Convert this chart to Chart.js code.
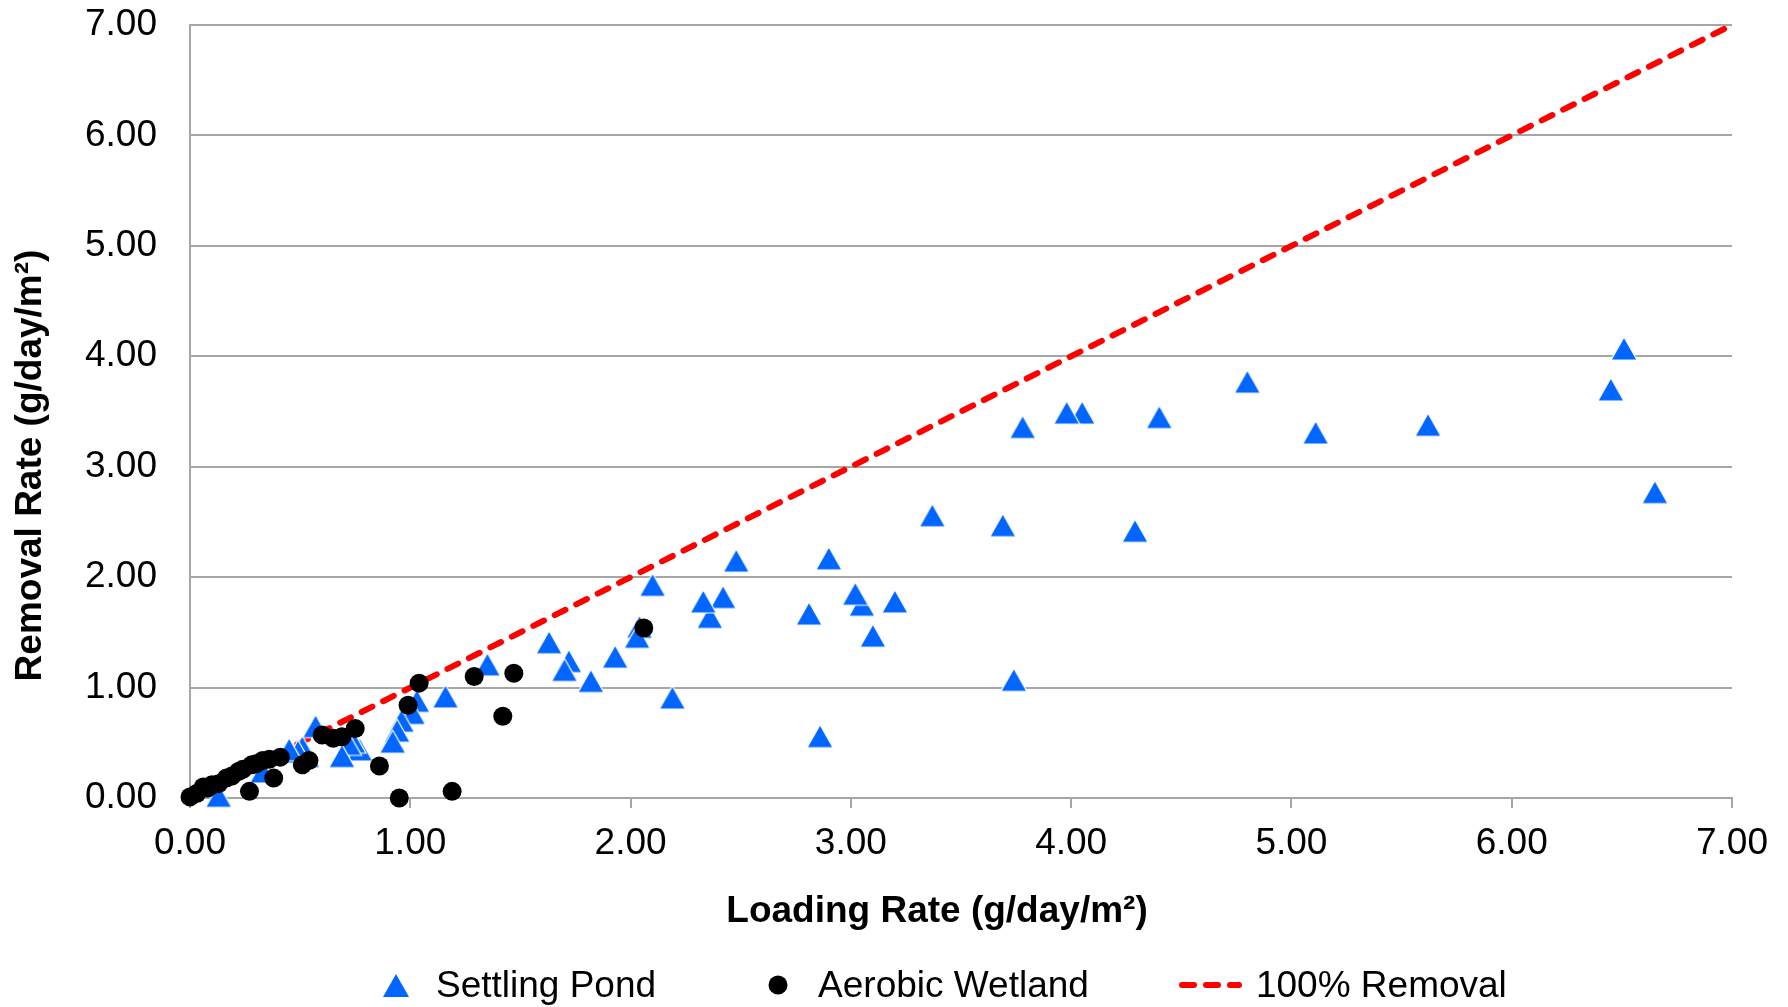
<!DOCTYPE html>
<html>
<head>
<meta charset="utf-8">
<script src="https://cdn.jsdelivr.net/npm/chart.js@4.4.1/dist/chart.umd.min.js"></script>
<style>
  html, body { margin: 0; padding: 0; background: #fff; }
  #wrap { position: relative; width: 1788px; height: 1007px; overflow: hidden; }
  #removalChart { position: absolute; left: 0; top: 0; }
  #legend {
    position: absolute; left: 364px; top: 963px;
    display: flex; gap: 90px;
    font: 37px "Liberation Sans", Arial, sans-serif; line-height: 44px; color: #000;
  }
  .legend-item { display: flex; align-items: center; white-space: nowrap; }
  .legend-mark { width: 63px; height: 44px; margin-right: 9px; display: flex; align-items: center; justify-content: center; }
  .legend-item.line .legend-mark { margin-right: 14px; }
</style>
</head>
<body>
<div id="wrap">
  <canvas id="removalChart" width="1788" height="1007"></canvas>
  <div id="legend"></div>
</div>
<script>
// Settling Pond (triangles)
const pondLoading = [6.51, 6.45, 6.65, 5.62, 5.11, 4.80, 4.40, 4.29, 4.05, 3.98,
  3.78, 3.74, 3.69, 3.37, 3.20, 3.10, 3.05, 3.02, 2.90, 2.81,
  2.86, 2.48, 2.42, 2.36, 2.33, 2.19, 2.10, 2.04, 2.03, 1.93,
  1.82, 1.72, 1.70, 1.63, 1.35, 1.16, 1.03, 1.01, 0.96, 0.94,
  0.92, 0.77, 0.74, 0.72, 0.69, 0.57, 0.53, 0.51, 0.49, 0.45,
  0.33, 0.13];
const pondRemoval = [4.07, 3.70, 2.77, 3.38, 3.31, 3.77, 3.45, 2.42, 3.49, 3.49,
  3.36, 1.07, 2.47, 2.56, 1.78, 1.47, 1.75, 1.85, 2.17, 1.67,
  0.56, 2.15, 1.82, 1.64, 1.78, 0.91, 1.93, 1.55, 1.46, 1.28,
  1.06, 1.24, 1.16, 1.41, 1.21, 0.92, 0.88, 0.77, 0.70, 0.61,
  0.51, 0.44, 0.51, 0.49, 0.38, 0.65, 0.38, 0.46, 0.42, 0.44,
  0.24, 0.02];

// Aerobic Wetland (circles)
const wetlandLoading = [0.00, 0.03, 0.06, 0.08, 0.10, 0.13, 0.165, 0.19, 0.22, 0.24,
  0.27, 0.28, 0.30, 0.33, 0.36, 0.38, 0.41, 0.51, 0.54, 0.60,
  0.65, 0.69, 0.75, 0.86, 0.95, 0.99, 1.04, 1.19, 1.29, 1.42,
  1.47, 2.06];
const wetlandRemoval = [0.01, 0.04, 0.10, 0.09, 0.12, 0.13, 0.18, 0.20, 0.24, 0.26,
  0.06, 0.30, 0.31, 0.34, 0.35, 0.18, 0.37, 0.30, 0.34, 0.57,
  0.54, 0.555, 0.63, 0.29, 0.00, 0.84, 1.04, 0.06, 1.10, 0.74,
  1.13, 1.54];

// 100% removal reference line
const fullRemovalLoading = [0, 7];
const fullRemovalRemoval = [0, 7];

const tickValues = [0, 1, 2, 3, 4, 5, 6, 7];

const FONT = '"Liberation Sans", Arial, sans-serif';
const POND_BLUE = '#0066ff';
const GRID_GREY = '#a6a6a6';

function toPoints(xs, ys) {
  return xs.map((x, i) => ({ x: x, y: ys[i] }));
}

// triangle marker centred on its bounding box (like the spreadsheet marker)
function makeTriangle(w, h, color) {
  const c = document.createElement('canvas');
  c.width = w + 4;
  c.height = h + 4;
  const ctx = c.getContext('2d');
  ctx.beginPath();
  ctx.moveTo(c.width / 2, 2);
  ctx.lineTo(2 + w, 2 + h);
  ctx.lineTo(2, 2 + h);
  ctx.closePath();
  ctx.fillStyle = color;
  ctx.fill();
  ctx.strokeStyle = '#ffffff';
  ctx.lineWidth = 1.2;
  ctx.stroke();
  return c;
}

// move an axis title without moving the plot area
function nudgeTitle(scale, dx, dy) {
  if (scale._nudged) return;
  const draw = scale.drawTitle;
  scale.drawTitle = function () {
    this.ctx.save();
    this.ctx.translate(dx, dy);
    draw.call(this);
    this.ctx.restore();
  };
  scale._nudged = true;
}

const triangle = makeTriangle(26, 23, POND_BLUE);

Chart.defaults.font.family = FONT;
Chart.defaults.color = '#000';

const ctx = document.getElementById('removalChart').getContext('2d');
const chart = new Chart(ctx, {
  type: 'scatter',
  data: {
    datasets: [
      {
        label: 'Settling Pond',
        data: toPoints(pondLoading, pondRemoval),
        pointStyle: triangle,
        pointRadius: 12,
        backgroundColor: POND_BLUE,
        borderWidth: 0,
        clip: false,
        order: 1
      },
      {
        label: 'Aerobic Wetland',
        data: toPoints(wetlandLoading, wetlandRemoval),
        pointStyle: 'circle',
        pointRadius: 9.5,
        backgroundColor: '#000',
        borderWidth: 0,
        clip: false,
        order: 0
      },
      {
        label: '100% Removal',
        data: toPoints(fullRemovalLoading, fullRemovalRemoval),
        showLine: true,
        pointRadius: 0,
        borderColor: '#ff0000',
        borderWidth: 6,
        borderDash: [12, 12],
        borderCapStyle: 'round',
        order: 2
      }
    ]
  },
  options: {
    responsive: false,
    animation: false,
    devicePixelRatio: 1,
    layout: { padding: { top: 25, right: 56, bottom: 73, left: 0 } },
    plugins: {
      legend: { display: false },
      tooltip: { enabled: false }
    },
    scales: {
      x: {
        type: 'linear',
        min: 0,
        max: 7,
        afterBuildTicks: s => { s.ticks = tickValues.map(v => ({ value: v })); },
        afterFit: s => {
          s.height = 136;
          s.paddingLeft = 0;
          s.paddingRight = 0;
          nudgeTitle(s, -24, 0);
        },
        ticks: {
          padding: 14,
          font: { size: 37 },
          callback: v => v.toFixed(2)
        },
        grid: {
          drawOnChartArea: false,
          drawTicks: true,
          tickLength: 10,
          color: GRID_GREY,
          lineWidth: 2
        },
        border: { color: GRID_GREY, width: 2 },
        title: {
          display: true,
          text: 'Loading Rate (g/day/m²)',
          font: { size: 37, weight: 'bold' },
          padding: { top: 0, bottom: 0 }
        }
      },
      y: {
        type: 'linear',
        min: 0,
        max: 7,
        afterBuildTicks: s => { s.ticks = tickValues.map(v => ({ value: v })); },
        afterFit: s => {
          s.width = 190;
          s.paddingTop = 0;
          s.paddingBottom = 0;
          nudgeTitle(s, 0, 54);
        },
        ticks: {
          padding: 33,
          font: { size: 37 },
          callback: v => v.toFixed(2)
        },
        grid: {
          drawTicks: false,
          color: GRID_GREY,
          lineWidth: 2
        },
        border: { color: GRID_GREY, width: 2 },
        title: {
          display: true,
          text: 'Removal Rate (g/day/m²)',
          font: { size: 37, weight: 'bold' },
          padding: { top: 9, bottom: 0 }
        }
      }
    }
  }
});

// html legend built from the datasets
function legendMark(ds) {
  if (ds.pointStyle === triangle) {
    return '<svg width="28" height="25"><polygon points="14,1 27,24 1,24" fill="' + POND_BLUE + '"/></svg>';
  }
  if (ds.pointStyle === 'circle') {
    return '<svg width="20" height="20"><circle cx="10" cy="10" r="9.5" fill="#000"/></svg>';
  }
  return '<svg width="63" height="10"><line x1="3" y1="5" x2="60" y2="5" stroke="#ff0000" stroke-width="6"' +
    ' stroke-linecap="round" stroke-dasharray="12 12"/></svg>';
}

const legendEl = document.getElementById('legend');
legendEl.innerHTML = chart.data.datasets.map(ds =>
  '<div class="legend-item' + (ds.showLine ? ' line' : '') + '"><span class="legend-mark">' +
  legendMark(ds) + '</span><span>' + ds.label + '</span></div>'
).join('');
</script>
</body>
</html>
